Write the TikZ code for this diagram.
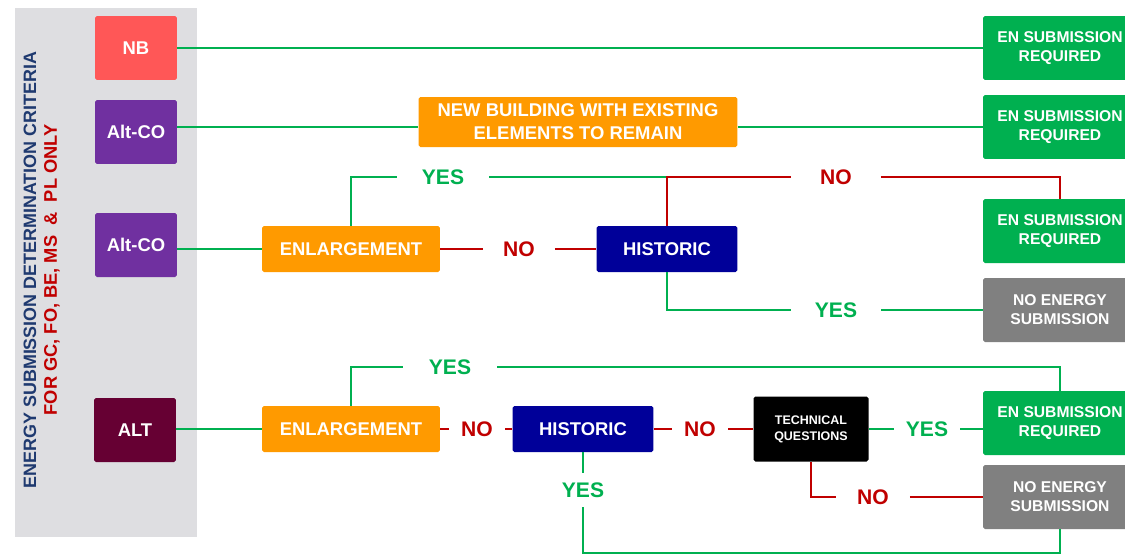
\documentclass[tikz,border=0pt]{standalone}
\usepackage{fontspec}
\setmainfont{Liberation Sans}
\usepackage{xcolor}
\usetikzlibrary{calc}
\definecolor{panelgrey}{HTML}{DEDEE1}
\definecolor{nbred}{HTML}{FF5757}
\definecolor{altpurple}{HTML}{7030A0}
\definecolor{altmaroon}{HTML}{660033}
\definecolor{enlorange}{HTML}{FF9A00}
\definecolor{histblue}{HTML}{000099}
\definecolor{engreen}{HTML}{00B050}
\definecolor{nogrey}{HTML}{808080}
\definecolor{linered}{HTML}{C00000}
\definecolor{navytxt}{HTML}{1F3A70}

\begin{document}
\begin{tikzpicture}[x=0.02cm,y=-0.02cm,
    box/.style={rectangle,rounded corners=1pt,text=white,align=center,inner sep=0pt,
      font=\bfseries\fontsize{10.5}{13}\selectfont},
    srcbox/.style={box,minimum width=1.64cm,minimum height=1.28cm},
    outbox/.style={box,minimum width=3.08cm,minimum height=1.28cm,
      font=\bfseries\fontsize{8.9}{10.8}\selectfont},
    lbl/.style={rectangle,fill=white,inner sep=0pt,minimum height=0.68cm,
      font=\bfseries\fontsize{12}{14}\selectfont},
    yeslbl/.style={lbl,text=engreen},
    nolbl/.style={lbl,text=linered},
    greenline/.style={draw=engreen,line width=1.5pt},
    redline/.style={draw=linered,line width=1.5pt}]
  \useasboundingbox (0,0) rectangle (1125,555);
  \fill[panelgrey] (15,8) rectangle (197,537);
  \node[rotate=90,text=navytxt,font=\bfseries\fontsize{10.2}{12}\selectfont] (crit) at (30,270)
    {ENERGY SUBMISSION DETERMINATION CRITERIA};
  \node[rotate=90,text=linered,font=\bfseries\fontsize{10.4}{12}\selectfont] (only) at (52,270)
    {FOR GC, FO, BE, MS \ \& \ PL ONLY};

  \node[srcbox,fill=nbred] (nb) at (136,48) {NB};
  \node[srcbox,fill=altpurple] (aco1) at (136,132) {Alt-CO};
  \node[srcbox,fill=altpurple] (aco2) at (136,245) {Alt-CO};
  \node[srcbox,fill=altmaroon] (alt) at (135,430) {ALT};

  \node[outbox,fill=engreen] (en1) at (1060,48) {EN SUBMISSION\\REQUIRED};
  \node[outbox,fill=engreen] (en2) at (1060,127) {EN SUBMISSION\\REQUIRED};
  \node[outbox,fill=engreen] (en3) at (1060,231) {EN SUBMISSION\\REQUIRED};
  \node[outbox,fill=nogrey] (ne1) at (1060,310) {NO ENERGY\\SUBMISSION};
  \node[outbox,fill=engreen] (en4) at (1060,423) {EN SUBMISSION\\REQUIRED};
  \node[outbox,fill=nogrey] (ne2) at (1060,497) {NO ENERGY\\SUBMISSION};

  \node[box,fill=enlorange,minimum width=6.38cm,minimum height=1cm] (newb) at (578,122)
    {NEW BUILDING WITH EXISTING\\ELEMENTS TO REMAIN};
  \node[box,fill=enlorange,minimum width=3.56cm,minimum height=0.92cm] (enl1) at (351,249) {ENLARGEMENT};
  \node[box,fill=histblue,minimum width=2.82cm,minimum height=0.92cm] (hist1) at (667,249) {HISTORIC};
  \node[box,fill=enlorange,minimum width=3.56cm,minimum height=0.92cm] (enl2) at (351,429) {ENLARGEMENT};
  \node[box,fill=histblue,minimum width=2.82cm,minimum height=0.92cm] (hist2) at (583,429) {HISTORIC};
  \node[box,fill=black,minimum width=2.3cm,minimum height=1.3cm,
    font=\bfseries\fontsize{7.1}{9}\selectfont] (tq) at (811,429) {TECHNICAL\\QUESTIONS};

  \node[yeslbl,minimum width=1.84cm] (y1) at (443,177) {YES};
  \node[nolbl,minimum width=1.42cm] (n1) at (519,249) {NO};
  \node[nolbl,minimum width=1.78cm] (n2) at (836,177) {NO};
  \node[yeslbl,minimum width=1.8cm] (y2) at (836,310) {YES};
  \node[yeslbl,minimum width=1.88cm] (y3) at (450,367) {YES};
  \node[nolbl,minimum width=1.12cm] (n3) at (477,429) {NO};
  \node[nolbl,minimum width=1.12cm] (n4) at (700,429) {NO};
  \node[yeslbl,minimum width=1.32cm] (y4) at (927,429) {YES};
  \node[nolbl,minimum width=1.46cm] (n5) at (873,497) {NO};
  \node[yeslbl,minimum width=1.88cm] (y5) at (583,490) {YES};
  \coordinate (bot) at (1060,553);

  \draw[greenline] (nb.east |- en1.west) -- (en1.west);
  \draw[greenline] (aco1.east |- en2.west) -- (newb.west |- en2.west);
  \draw[greenline] (newb.east |- en2.west) -- (en2.west);

  \draw[greenline] (aco2.east |- enl1.west) -- (enl1.west);
  \draw[greenline] (enl1.north) |- (y1.west);
  \draw[greenline] (y1.east) -- (hist1.north |- y1.east);
  \draw[redline] (enl1.east) -- (n1.west);
  \draw[redline] (n1.east) -- (hist1.west);
  \draw[redline] (hist1.north) |- (n2.west);
  \draw[redline] (n2.east) -| (en3.north);
  \draw[greenline] (hist1.south) |- (y2.west);
  \draw[greenline] (y2.east) -- (ne1.west);

  \draw[greenline] (alt.east |- enl2.west) -- (enl2.west);
  \draw[greenline] (enl2.north) |- (y3.west);
  \draw[greenline] (y3.east) -| (en4.north);
  \draw[redline] (enl2.east) -- (n3.west);
  \draw[redline] (n3.east) -- (hist2.west);
  \draw[redline] (hist2.east) -- (n4.west);
  \draw[redline] (n4.east) -- (tq.west);
  \draw[greenline] (tq.east) -- (y4.west);
  \draw[greenline] (y4.east) -- (y4.east -| en4.west);
  \draw[redline] (tq.south) |- (n5.west);
  \draw[redline] (n5.east) -- (ne2.west);
  \draw[greenline] (hist2.south) -- (y5.north);
  \draw[greenline] (y5.south) |- (bot) -- (ne2.south);
\end{tikzpicture}
\end{document}
